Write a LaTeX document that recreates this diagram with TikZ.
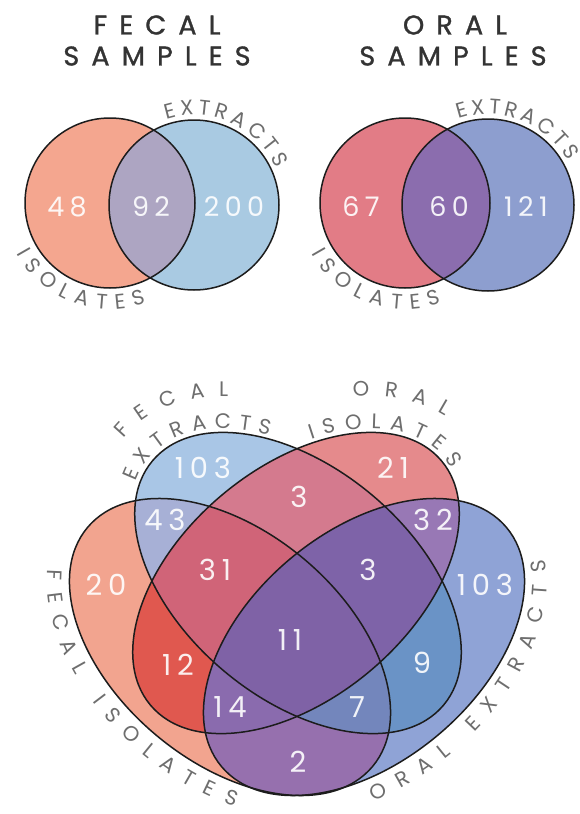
\documentclass[tikz,border=0pt]{standalone}
\usepackage{fontspec}
\setmainfont{Poppins}
\newfontfamily\titlefont[LetterSpace=45,FakeBold=1.2]{Poppins}
\newfontfamily\numfont[LetterSpace=20]{Poppins}
\usetikzlibrary{decorations.text}
\definecolor{lblgray}{HTML}{6E6E6E}
\definecolor{titlegray}{HTML}{333333}
\definecolor{edge}{HTML}{1C1C1C}
% top venns
\definecolor{tlI}{HTML}{F4A68F}
\definecolor{tlE}{HTML}{A9CAE2}
\definecolor{tlIE}{HTML}{ADA5C2}
\definecolor{trI}{HTML}{E27C86}
\definecolor{trE}{HTML}{8D9ECF}
\definecolor{trIE}{HTML}{8B6DAE}
% bottom venn
\definecolor{cFI}{HTML}{F2A48F}
\definecolor{cFE}{HTML}{A9C6E6}
\definecolor{cOI}{HTML}{E58A8C}
\definecolor{cOE}{HTML}{8FA3D6}
\definecolor{cA}{HTML}{A7B0D6}   % 43
\definecolor{cB}{HTML}{D47A8E}   % 3 top
\definecolor{cC}{HTML}{9878B5}   % 32
\definecolor{cD}{HTML}{9670AE}   % 2
\definecolor{cE}{HTML}{D06478}   % 31
\definecolor{cF}{HTML}{7E63A8}   % 3 right
\definecolor{cG}{HTML}{7F62A6}   % 11
\definecolor{cH}{HTML}{E0584F}   % 12
\definecolor{cJ}{HTML}{6A93C6}   % 9
\definecolor{cK}{HTML}{8A6BAE}   % 14
\definecolor{cL}{HTML}{7386BC}   % 7
\newcommand\lblfont{\fontsize{21pt}{21pt}\selectfont}
\newcommand\clipFI{\clip[rotate around={-40:(230,647)}] (230,647) ellipse [x radius=186pt, y radius=115pt];}
\newcommand\clipFE{\clip[rotate around={-40:(298,583)}] (298,583) ellipse [x radius=190pt, y radius=115pt];}
\newcommand\clipOI{\clip[rotate around={40:(296,583)}] (296,583) ellipse [x radius=190pt, y radius=115pt];}
\newcommand\clipOE{\clip[rotate around={40:(364,647)}] (364,647) ellipse [x radius=186pt, y radius=115pt];}
\newcommand\regionfill[2]{\begin{scope}#1\fill[#2] (0,0) rectangle (579,814);\end{scope}}
\tikzset{
  edgeline/.style={draw=edge, line width=1.5pt},
  num/.style={font=\numfont\fontsize{29pt}{29pt}\selectfont, text=white, text opacity=0.9, inner sep=0pt},
  tnum/.style={font=\numfont\fontsize{27pt}{27pt}\selectfont, text=white, text opacity=0.9, inner sep=0pt},
  title/.style={font=\titlefont\fontsize{27pt}{27pt}\selectfont, text=titlegray, inner sep=0pt},
  lbl/.style={decorate, decoration={text along path, text align={fit to path}, text color=lblgray, text={|\lblfont|#1}}}
}
\begin{document}
\begin{tikzpicture}[x=1pt, y=-1pt]
\fill[white] (0,0) rectangle (579,814);
\useasboundingbox (0,0) rectangle (579,814);

% ---------- titles ----------
\node[title] (t1a) at (157,25) {FECAL};
\node[title] (t1b) at (157,56) {SAMPLES};
\node[title] (t2a) at (455,25) {ORAL};
\node[title] (t2b) at (453,56) {SAMPLES};

% ---------- fecal samples venn ----------
\fill[tlI] (110,203) circle [radius=85pt];
\fill[tlE] (194,205) circle [radius=85pt];
\begin{scope}\clip (110,203) circle [radius=85pt];
\fill[tlIE] (194,205) circle [radius=85pt];\end{scope}
\draw[edgeline] (110,203) circle [radius=85pt];
\draw[edgeline] (194,205) circle [radius=85pt];
\node[tnum] (n48) at (67,207) {48};
\node[tnum] (n92) at (151,207) {92};
\node[tnum] (n200) at (234,207) {200};
\path[lbl={EXTRACTS}] (194,205) ++(108:90pt) arc[start angle=108, end angle=24, radius=90pt];
\path[lbl={ISOLATES}] (110,203) ++(208.5:106pt) arc[start angle=208.5, end angle=290, radius=106pt];

% ---------- oral samples venn ----------
\fill[trI] (405,203) circle [radius=85pt];
\fill[trE] (488,205) circle [radius=86pt];
\begin{scope}\clip (405,203) circle [radius=85pt];
\fill[trIE] (488,205) circle [radius=86pt];\end{scope}
\draw[edgeline] (405,203) circle [radius=85pt];
\draw[edgeline] (488,205) circle [radius=86pt];
\node[tnum] (n67) at (361,207) {67};
\node[tnum] (n60) at (449,207) {60};
\node[tnum] (n121) at (526,207) {121};
\path[lbl={EXTRACTS}] (488,205) ++(109:91pt) arc[start angle=109, end angle=29, radius=91pt];
\path[lbl={ISOLATES}] (405,203) ++(208.5:106pt) arc[start angle=208.5, end angle=290, radius=106pt];

% ---------- four-set venn ----------
\regionfill{\clipFI}{cFI}
\regionfill{\clipFE}{cFE}
\regionfill{\clipOI}{cOI}
\regionfill{\clipOE}{cOE}
\regionfill{\clipFI\clipFE}{cA}
\regionfill{\clipFE\clipOI}{cB}
\regionfill{\clipOI\clipOE}{cC}
\regionfill{\clipFI\clipOE}{cD}
\regionfill{\clipFI\clipOI}{cH}
\regionfill{\clipFE\clipOE}{cJ}
\regionfill{\clipFI\clipFE\clipOI}{cE}
\regionfill{\clipFE\clipOI\clipOE}{cF}
\regionfill{\clipFI\clipOI\clipOE}{cK}
\regionfill{\clipFI\clipFE\clipOE}{cL}
\regionfill{\clipFI\clipFE\clipOI\clipOE}{cG}
\draw[edgeline, rotate around={-40:(230,647)}] (230,647) ellipse [x radius=186pt, y radius=115pt];
\draw[edgeline, rotate around={-40:(298,583)}] (298,583) ellipse [x radius=190pt, y radius=115pt];
\draw[edgeline, rotate around={40:(296,583)}] (296,583) ellipse [x radius=190pt, y radius=115pt];
\draw[edgeline, rotate around={40:(364,647)}] (364,647) ellipse [x radius=186pt, y radius=115pt];

\node[num] (r20) at (106,585) {20};
\node[num] (r103a) at (203,468) {103};
\node[num] (r21) at (393,468) {21};
\node[num] (r103b) at (485,585) {103};
\node[num] (r43) at (165,520) {43};
\node[num] (r3a) at (299,497) {3};
\node[num] (r32) at (433,520) {32};
\node[num] (r31) at (215,570) {31};
\node[num] (r3b) at (368,570) {3};
\node[num] (r11) at (290,640) {11};
\node[num] (r12) at (178,665) {12};
\node[num] (r9) at (422,663) {9};
\node[num] (r14) at (230,707) {14};
\node[num] (r7) at (357,707) {7};
\node[num] (r2) at (298,762) {2};

% curved labels
\begin{scope}[shift={(298,583)}, rotate=-40]
\path[lbl={EXTRACTS}] (193:194pt and 119pt) arc[start angle=193, end angle=127, x radius=194pt, y radius=119pt];
\path[lbl={FECAL}] (180.6:227pt and 152pt) arc[start angle=180.6, end angle=139.8, x radius=227pt, y radius=152pt];
\end{scope}
\begin{scope}[shift={(296,583)}, rotate=40]
\path[lbl={ISOLATES}] (57.5:194pt and 119pt) arc[start angle=57.5, end angle=-6, x radius=194pt, y radius=119pt];
\path[lbl={ORAL}] (44:227pt and 152pt) arc[start angle=44, end angle=12, x radius=227pt, y radius=152pt];
\end{scope}
\begin{scope}[shift={(230,647)}, rotate=-40]
\path[lbl={FECAL ISOLATES}] (205:209pt and 138pt) arc[start angle=205, end angle=300.5, x radius=209pt, y radius=138pt];
\end{scope}
\begin{scope}[shift={(364,647)}, rotate=40]
\path[lbl={ORAL EXTRACTS}] (244:209pt and 138pt) arc[start angle=244, end angle=339, x radius=209pt, y radius=138pt];
\end{scope}
\end{tikzpicture}
\end{document}
